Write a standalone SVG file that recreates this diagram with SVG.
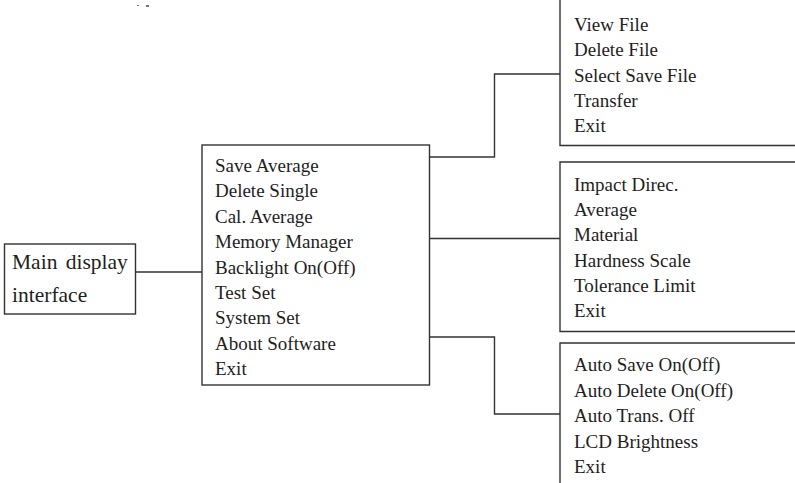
<svg xmlns="http://www.w3.org/2000/svg" width="795" height="483" viewBox="0 0 795 483">
<style>
.ln{fill:none;stroke:#333;stroke-width:1.4}
.t{font-family:"Liberation Serif","Times New Roman",serif;font-size:19px;fill:#1e1e1e}
.tm{font-family:"Liberation Serif","Times New Roman",serif;font-size:21.5px;fill:#1e1e1e}
</style>
<rect width="795" height="483" fill="#fff"/>
<g fill="#777"><rect x="137" y="5" width="2" height="1"/><rect x="146" y="5" width="3" height="2"/></g>
<g id="main">
<rect class="ln" x="4.5" y="244" width="131" height="70"/>
<text class="tm" x="12" y="269" word-spacing="3">Main display</text>
<text class="tm" x="12" y="302">interface</text>
</g>
<g id="menu">
<rect class="ln" x="202" y="145" width="227.5" height="240"/>
<g class="t">
<text x="215" y="172">Save Average</text>
<text x="215" y="197.4">Delete Single</text>
<text x="215" y="222.8">Cal. Average</text>
<text x="215" y="248.2">Memory Manager</text>
<text x="215" y="273.6">Backlight On(Off)</text>
<text x="215" y="299">Test Set</text>
<text x="215" y="324.4">System Set</text>
<text x="215" y="349.8">About Software</text>
<text x="215" y="375.2">Exit</text>
</g>
</g>
<g id="memory">
<path class="ln" d="M560 0V145.5H795"/>
<g class="t">
<text x="574" y="31">View File</text>
<text x="574" y="56.3">Delete File</text>
<text x="574" y="81.6">Select Save File</text>
<text x="574" y="106.9">Transfer</text>
<text x="574" y="132.2">Exit</text>
</g>
</g>
<g id="testset">
<path class="ln" d="M795 162H560V331.5H795"/>
<g class="t">
<text x="574" y="191">Impact Direc.</text>
<text x="574" y="216.2">Average</text>
<text x="574" y="241.4">Material</text>
<text x="574" y="266.6">Hardness Scale</text>
<text x="574" y="291.8">Tolerance Limit</text>
<text x="574" y="317">Exit</text>
</g>
</g>
<g id="systemset">
<path class="ln" d="M795 343H560V483"/>
<g class="t">
<text x="574" y="371">Auto Save On(Off)</text>
<text x="574" y="396.5">Auto Delete On(Off)</text>
<text x="574" y="422">Auto Trans. Off</text>
<text x="574" y="447.5">LCD Brightness</text>
<text x="574" y="473">Exit</text>
</g>
</g>
<g id="connectors">
<path class="ln" d="M135.5 272H202"/>
<path class="ln" d="M429.5 157H494.5V74H560"/>
<path class="ln" d="M429.5 238.5H560"/>
<path class="ln" d="M429.5 337H494.5V414H560"/>
</g>
</svg>
